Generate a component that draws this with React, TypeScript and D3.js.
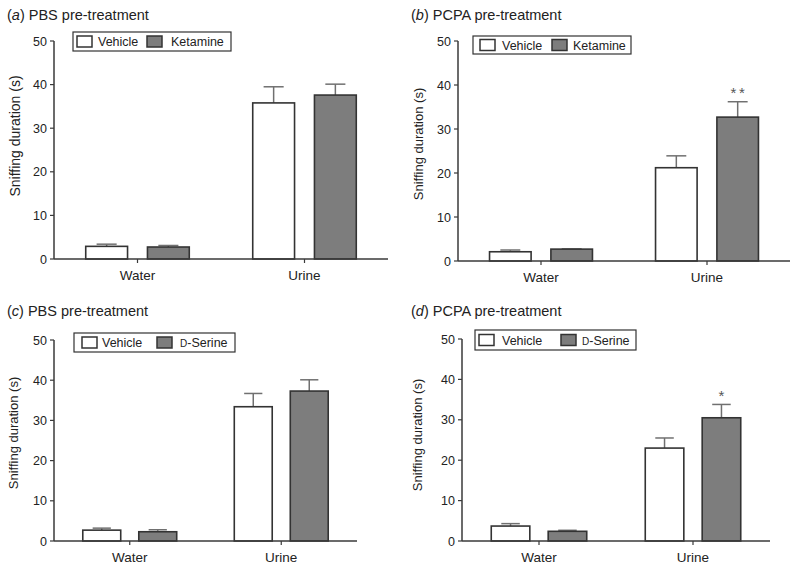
import React from "react";
import * as d3 from "d3";

const categories = ["Water", "Urine"];
const yTicks = [0, 10, 20, 30, 40, 50];
const seriesKeys = ["vehicle", "drug"];

const aVehicle = [2.9, 35.8];
const aVehicleErr = [0.5, 3.7];
const aKetamine = [2.75, 37.6];
const aKetamineErr = [0.35, 2.5];
const aSig = ["", ""];

const bVehicle = [2.1, 21.2];
const bVehicleErr = [0.4, 2.7];
const bKetamine = [2.7, 32.7];
const bKetamineErr = [0.05, 3.5];
const bSig = ["", "**"];

const cVehicle = [2.7, 33.4];
const cVehicleErr = [0.5, 3.3];
const cSerine = [2.3, 37.3];
const cSerineErr = [0.5, 2.8];
const cSig = ["", ""];

const dVehicle = [3.7, 23.0];
const dVehicleErr = [0.6, 2.5];
const dSerine = [2.4, 30.5];
const dSerineErr = [0.25, 3.3];
const dSig = ["", "*"];

const FONT = "'Liberation Sans', Arial, Helvetica, sans-serif";
const AXIS = "#3a3a3a";
const BAR_STROKE = "#333";
const DRUG_FILL = "#7d7d7d";
const ERR = "#707070";

type Layout = {
  x0: number; x1: number; yTop: number; yBot: number;
  titleX: number; titleY: number;
  legX: number; legY: number; legW: number; legH: number;
  sw1: number; tx1: number; sw2: number; tx2: number;
  ylabX: number; ylabY: number; ylabFs: number;
};

function DrugText({ name }: { name: string }) {
  if (name === "D-Serine") {
    return (
      <>
        <tspan fontSize="10">D</tspan>
        <tspan>-Serine</tspan>
      </>
    );
  }
  return <>{name}</>;
}

function Panel({
  letter, treatment, drugName, vehicle, vehicleErr, drug, drugErr, sig, L,
}: {
  letter: string; treatment: string; drugName: string;
  vehicle: number[]; vehicleErr: number[]; drug: number[]; drugErr: number[];
  sig: string[]; L: Layout;
}) {
  const x = d3.scaleBand().domain(categories).range([L.x0, L.x1]);
  const groupW = x.bandwidth() * 0.62;
  const x1 = d3.scaleBand().domain(seriesKeys).range([0, groupW]).paddingInner(0.3226);
  const y = d3.scaleLinear().domain([0, 50]).range([L.yBot, L.yTop]);
  const bw = x1.bandwidth();
  const capW = bw * 0.48;

  const series = [
    { key: "vehicle", vals: vehicle, errs: vehicleErr, fill: "#fff", sig: ["", ""] },
    { key: "drug", vals: drug, errs: drugErr, fill: DRUG_FILL, sig },
  ];

  const barX = (cat: string, key: string) =>
    (x(cat) as number) + (x.bandwidth() - groupW) / 2 + (x1(key) as number);

  return (
    <g fontFamily={FONT}>
      <text x={L.titleX} y={L.titleY} fontSize="14.5" fill="#222">
        (<tspan fontStyle="italic">{letter}</tspan>) {treatment} pre-treatment
      </text>

      {series.map((s) =>
        categories.map((cat, i) => {
          const cx = barX(cat, s.key) + bw / 2;
          const top = y(s.vals[i] + s.errs[i]);
          return (
            <g key={`e-${s.key}-${cat}`} stroke={ERR} strokeWidth={1.5}>
              <line x1={cx} x2={cx} y1={y(s.vals[i])} y2={top} />
              <line x1={cx - capW / 2} x2={cx + capW / 2} y1={top} y2={top} />
            </g>
          );
        })
      )}

      {series.map((s) =>
        categories.map((cat, i) => (
          <rect
            key={`b-${s.key}-${cat}`}
            x={barX(cat, s.key)}
            y={y(s.vals[i])}
            width={bw}
            height={L.yBot - y(s.vals[i])}
            fill={s.fill}
            stroke={BAR_STROKE}
            strokeWidth={1.6}
          />
        ))
      )}

      {series.map((s) =>
        categories.map((cat, i) =>
          s.sig[i] ? (
            <text
              key={`s-${s.key}-${cat}`}
              x={barX(cat, s.key) + bw / 2}
              y={y(s.vals[i] + s.errs[i]) - 3.5}
              dx={1.25}
              textAnchor="middle"
              fontSize="15"
              letterSpacing="2.5"
              fill="#555"
            >
              {s.sig[i]}
            </text>
          ) : null
        )
      )}

      <line x1={L.x0} x2={L.x0} y1={L.yTop} y2={L.yBot} stroke={AXIS} strokeWidth={1.5} />
      {yTicks.map((t) => (
        <g key={`yt-${t}`}>
          <line x1={L.x0 - 4} x2={L.x0} y1={y(t)} y2={y(t)} stroke={AXIS} strokeWidth={1.2} />
          <text x={L.x0 - 7} y={y(t)} dy="0.36em" textAnchor="end" fontSize="12.5" fill="#222">
            {t}
          </text>
        </g>
      ))}
      <text
        transform={`translate(${L.ylabX + L.ylabFs * 0.35},${L.ylabY}) rotate(-90)`}
        textAnchor="middle"
        fontSize={L.ylabFs}
        fill="#222"
      >
        Sniffing duration (s)
      </text>

      <line x1={L.x0} x2={L.x1} y1={L.yBot} y2={L.yBot} stroke={AXIS} strokeWidth={1.5} />
      {categories.map((cat) => {
        const cx = (x(cat) as number) + x.bandwidth() / 2;
        return (
          <g key={`xt-${cat}`}>
            <line x1={cx} x2={cx} y1={L.yBot} y2={L.yBot + 4} stroke={AXIS} strokeWidth={1.2} />
            <text x={cx} y={L.yBot + 21} textAnchor="middle" fontSize="13.5" fill="#222">
              {cat}
            </text>
          </g>
        );
      })}

      <rect x={L.legX} y={L.legY} width={L.legW} height={L.legH} fill="#fff" stroke="#333" strokeWidth={1.2} />
      <rect x={L.legX + L.sw1} y={L.legY + L.legH / 2 - 5.5} width={15} height={11} fill="#fff" stroke={BAR_STROKE} strokeWidth={1.5} />
      <text x={L.legX + L.tx1} y={L.legY + L.legH / 2} dy="0.36em" fontSize="12.5" fill="#222">Vehicle</text>
      <rect x={L.legX + L.sw2} y={L.legY + L.legH / 2 - 5.5} width={15} height={11} fill={DRUG_FILL} stroke={BAR_STROKE} strokeWidth={1.5} />
      <text x={L.legX + L.tx2} y={L.legY + L.legH / 2} dy="0.36em" fontSize="12.5" fill="#222">
        <DrugText name={drugName} />
      </text>
    </g>
  );
}

const layoutA: Layout = {
  x0: 54, x1: 388, yTop: 41, yBot: 259, titleX: 7, titleY: 20,
  legX: 73, legY: 32, legW: 158, legH: 19, sw1: 4, tx1: 25, sw2: 74, tx2: 98,
  ylabX: 15, ylabY: 136, ylabFs: 14,
};
const layoutB: Layout = {
  x0: 458, x1: 790, yTop: 41, yBot: 261, titleX: 411, titleY: 20,
  legX: 473, legY: 36, legW: 158, legH: 18, sw1: 7, tx1: 29, sw2: 79, tx2: 100,
  ylabX: 418, ylabY: 144, ylabFs: 13,
};
const layoutC: Layout = {
  x0: 54, x1: 357, yTop: 340, yBot: 541, titleX: 7, titleY: 316,
  legX: 74, legY: 333, legW: 161, legH: 19, sw1: 8, tx1: 28, sw2: 83, tx2: 106,
  ylabX: 13, ylabY: 433, ylabFs: 13,
};
const layoutD: Layout = {
  x0: 462, x1: 770, yTop: 339, yBot: 541, titleX: 411, titleY: 316,
  legX: 475, legY: 330, legW: 161, legH: 20, sw1: 4, tx1: 27, sw2: 86, tx2: 107,
  ylabX: 417, ylabY: 435, ylabFs: 13,
};

export default function App() {
  return (
    <svg
      width={800}
      height={571}
      viewBox="0 0 800 571"
      style={{ position: "absolute", left: 0, top: 0, background: "#fff" }}
    >
      <rect x={0} y={0} width={800} height={571} fill="#fff" />
      <Panel letter="a" treatment="PBS" drugName="Ketamine" vehicle={aVehicle} vehicleErr={aVehicleErr} drug={aKetamine} drugErr={aKetamineErr} sig={aSig} L={layoutA} />
      <Panel letter="b" treatment="PCPA" drugName="Ketamine" vehicle={bVehicle} vehicleErr={bVehicleErr} drug={bKetamine} drugErr={bKetamineErr} sig={bSig} L={layoutB} />
      <Panel letter="c" treatment="PBS" drugName="D-Serine" vehicle={cVehicle} vehicleErr={cVehicleErr} drug={cSerine} drugErr={cSerineErr} sig={cSig} L={layoutC} />
      <Panel letter="d" treatment="PCPA" drugName="D-Serine" vehicle={dVehicle} vehicleErr={dVehicleErr} drug={dSerine} drugErr={dSerineErr} sig={dSig} L={layoutD} />
    </svg>
  );
}
